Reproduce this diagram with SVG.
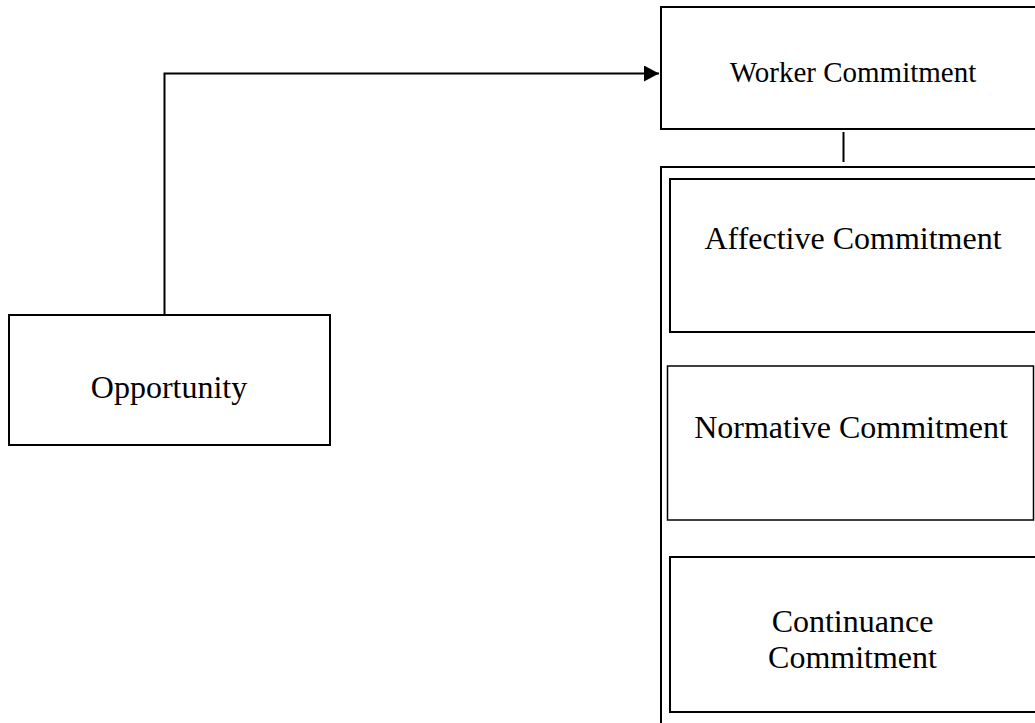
<svg xmlns="http://www.w3.org/2000/svg" width="1035" height="723" viewBox="0 0 1035 723">
<style>
.box{fill:#fff;stroke:#000;stroke-width:2}
.thin{fill:#fff;stroke:#000;stroke-width:1.5}
.t{font-family:"Liberation Serif","Times New Roman",serif;font-size:32px;fill:#000;text-anchor:middle}
.conn{fill:none;stroke:#000;stroke-width:2}
</style>
<defs>
<marker id="arr" markerWidth="16" markerHeight="16" refX="15" refY="8" orient="auto" markerUnits="userSpaceOnUse">
<path d="M0,0 L15,8 L0,16 Z" fill="#000"/>
</marker>
</defs>
<rect width="1035" height="723" fill="#fff"/>
<g id="connectors">
<path class="conn" d="M164.5,315 V73.5 H659" marker-end="url(#arr)"/>
<line class="conn" x1="843.5" y1="132" x2="843.5" y2="162" stroke-width="1.5"/>
</g>
<g id="opportunity">
<rect class="box" x="9" y="315" width="321" height="130"/>
<text class="t" x="169" y="398">Opportunity</text>
</g>
<g id="worker-commitment">
<rect class="box" x="661" y="7" width="400" height="122"/>
<text class="t" x="853" y="82" style="font-size:29px">Worker Commitment</text>
</g>
<g id="commitment-container">
<rect class="box" x="661" y="167" width="400" height="600"/>
</g>
<g id="affective-commitment">
<rect class="box" x="670" y="179" width="400" height="153"/>
<text class="t" x="853" y="249">Affective Commitment</text>
</g>
<g id="normative-commitment">
<rect class="thin" x="667.5" y="366" width="366" height="154"/>
<text class="t" x="851" y="438">Normative Commitment</text>
</g>
<g id="continuance-commitment">
<rect class="box" x="670" y="557" width="400" height="155"/>
<text class="t" x="852.5" y="632">Continuance</text>
<text class="t" x="852.5" y="668">Commitment</text>
</g>
</svg>
